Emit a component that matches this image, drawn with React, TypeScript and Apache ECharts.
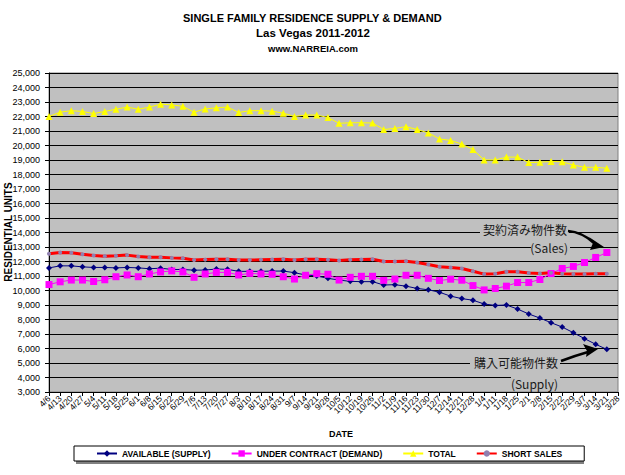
import React, { useEffect, useRef } from "react";
import * as echarts from "echarts";

const categories = [
  "4/6", "4/13", "4/20", "4/27", "5/4", "5/11", "5/18", "5/25", "6/1", "6/8", "6/15", "6/22", "6/29",
  "7/6", "7/13", "7/20", "7/27", "8/3", "8/10", "8/17", "8/24", "8/31", "9/7", "9/14", "9/21", "9/28",
  "10/5", "10/12", "10/19", "10/26", "11/2", "11/9", "11/16", "11/23", "11/30", "12/7", "12/14", "12/21", "12/28",
  "1/4", "1/11", "1/18", "1/25", "2/1", "2/8", "2/15", "2/22", "2/29", "3/7", "3/14", "3/21", "3/28",
];

const available = [
  11560, 11700, 11700, 11630, 11590, 11590, 11560, 11590, 11560, 11500, 11540, 11450, 11450,
  11400, 11410, 11480, 11460, 11320, 11320, 11320, 11340, 11340, 11230, 11070, 11000, 10840,
  10720, 10630, 10610, 10610, 10380, 10400, 10300, 10140, 10050, 9880, 9610, 9440, 9330,
  9070, 8970, 9000, 8720, 8380, 8100, 7780, 7480, 7090, 6680, 6290, 5940,
];

const underContract = [
  10410, 10600, 10720, 10720, 10620, 10740, 10950, 11070, 10950, 11140, 11280, 11350, 11280,
  10910, 11140, 11250, 11250, 11070, 11180, 11140, 11120, 10950, 10790, 11050, 11160, 11120,
  10720, 10910, 10980, 10980, 10700, 10790, 11050, 11050, 10840, 10690, 10780, 10710, 10340,
  10040, 10140, 10300, 10550, 10550, 10760, 11170, 11520, 11660, 11930, 12280, 12620,
];

const total = [
  22000, 22300, 22400, 22350, 22200, 22350, 22500, 22650, 22500, 22650, 22850, 22800, 22700,
  22300, 22520, 22600, 22650, 22280, 22400, 22400, 22370, 22230, 22000, 22100, 22100, 21930,
  21530, 21570, 21570, 21550, 21100, 21180, 21300, 21100, 20870, 20450, 20350, 20100, 19720,
  19000, 19000, 19200, 19200, 18820, 18850, 18900, 18880, 18650, 18500, 18500, 18430,
];

const shortSales = [
  12530, 12620, 12600, 12500, 12420, 12370, 12400, 12440, 12350, 12300, 12300, 12250, 12230,
  12100, 12130, 12160, 12160, 12100, 12100, 12120, 12140, 12160, 12100, 12160, 12160, 12120,
  12070, 12120, 12140, 12160, 12000, 12000, 12020, 11930, 11790, 11640, 11580, 11520, 11330,
  11130, 11150, 11290, 11290, 11200, 11170, 11220, 11150, 11130, 11130, 11150, 11150,
];

const FONT = "Liberation Sans, Arial, sans-serif";
const CJK = "'Noto Sans CJK JP', 'Noto Sans', sans-serif";

export default function App() {
  const ref = useRef<HTMLDivElement>(null);

  useEffect(() => {
    if (!ref.current) return;
    const chart = echarts.init(ref.current, undefined, { renderer: "svg" });
    chart.setOption({
      animation: false,
      backgroundColor: "#ffffff",
      textStyle: { fontFamily: FONT },
      grid: {
        left: 49,
        right: 7,
        top: 73,
        bottom: 83,
        show: true,
        backgroundColor: "#C0C0C0",
        borderColor: "#808080",
        borderWidth: 1,
      },
      legend: {
        left: 74,
        top: 446,
        padding: [3, 22, 3, 22],
        itemGap: 20,
        itemWidth: 20,
        itemHeight: 8,
        backgroundColor: "#ffffff",
        borderColor: "#000000",
        borderWidth: 1,
        borderRadius: 0,
        textStyle: { fontFamily: FONT, fontSize: 8.5, fontWeight: "bold", color: "#000" },
        data: ["AVAILABLE (SUPPLY)", "UNDER CONTRACT (DEMAND)", "TOTAL", "SHORT SALES"],
      },
      xAxis: {
        type: "category",
        data: categories,
        boundaryGap: false,
        axisLine: { lineStyle: { color: "#000", width: 1 } },
        axisTick: { show: true, length: 4, inside: false, interval: 0, lineStyle: { color: "#000" } },
        axisLabel: {
          interval: 0,
          rotate: 45,
          fontSize: 8.5,
          color: "#000",
          fontFamily: FONT,
          margin: 5,
        },
        splitLine: { show: false },
      },
      yAxis: {
        type: "value",
        min: 3000,
        max: 25000,
        interval: 1000,
        axisLine: { show: true, lineStyle: { color: "#000", width: 1 } },
        axisTick: { show: true, length: 4, lineStyle: { color: "#000" } },
        axisLabel: {
          fontSize: 9,
          color: "#000",
          fontFamily: FONT,
          margin: 9,
          formatter: (v: number) => v.toLocaleString("en-US"),
        },
        splitLine: { show: true, lineStyle: { color: "#000", width: 1 } },
      },
      series: [
        {
          name: "AVAILABLE (SUPPLY)",
          type: "line",
          data: available,
          symbol: "diamond",
          symbolSize: 6,
          showAllSymbol: true,
          lineStyle: { color: "#000080", width: 1 },
          itemStyle: { color: "#000080" },
        },
        {
          name: "UNDER CONTRACT (DEMAND)",
          type: "line",
          data: underContract,
          symbol: "rect",
          symbolSize: 7,
          showAllSymbol: true,
          lineStyle: { color: "#FF00FF", width: 1 },
          itemStyle: { color: "#FF00FF" },
        },
        {
          name: "TOTAL",
          type: "line",
          data: total,
          symbol: "triangle",
          symbolSize: 7,
          showAllSymbol: true,
          lineStyle: { color: "#FFFF00", width: 1 },
          itemStyle: { color: "#FFFF00" },
        },
        {
          name: "SHORT SALES",
          type: "line",
          data: shortSales,
          symbol: "circle",
          symbolSize: 4,
          showAllSymbol: true,
          lineStyle: { color: "#FF0000", width: 3 },
          itemStyle: { color: "#9080B0" },
        },
      ],
      graphic: [
        {
          type: "text",
          left: "center",
          top: 12,
          style: { text: "SINGLE FAMILY RESIDENCE SUPPLY & DEMAND", font: `bold 11px ${FONT}`, fill: "#000" },
        },
        {
          type: "text",
          x: 313,
          y: 33,
          style: { text: "Las Vegas 2011-2012", font: `bold 11.5px ${FONT}`, fill: "#000", textAlign: "center", textVerticalAlign: "middle" },
        },
        {
          type: "text",
          x: 313,
          y: 48,
          style: { text: "www.NARREIA.com", font: `bold 9.5px ${FONT}`, fill: "#000", textAlign: "center", textVerticalAlign: "middle" },
        },
        {
          type: "text",
          x: 8.5,
          y: 232,
          rotation: Math.PI / 2,
          style: { text: "RESIDENTIAL UNITS", font: `bold 10px ${FONT}`, fill: "#000", textAlign: "center", textVerticalAlign: "middle" },
        },
        {
          type: "text",
          x: 341,
          y: 434,
          style: { text: "DATE", font: `bold 9px ${FONT}`, fill: "#000", textAlign: "center", textVerticalAlign: "middle" },
        },
        {
          type: "rect",
          shape: { x: 76, y: 448, width: 508, height: 16 },
          style: { fill: "#808080" },
          z: 0,
        },
        // Sales annotation
        { type: "rect", z: 90, shape: { x: 480, y: 222, width: 89, height: 14 }, style: { fill: "#C0C0C0" } },
        { type: "rect", z: 90, shape: { x: 531, y: 240, width: 39, height: 14 }, style: { fill: "#C0C0C0" } },
        {
          type: "text", z: 100, x: 567, y: 229,
          style: { text: "契約済み物件数", font: `12px ${CJK}`, fill: "#1a1a1a", textAlign: "right", textVerticalAlign: "middle" },
        },
        {
          type: "text", z: 100, x: 568, y: 247,
          style: { text: "(Sales)", font: `12px ${CJK}`, fill: "#1a1a1a", textAlign: "right", textVerticalAlign: "middle" },
        },
        {
          type: "bezierCurve", z: 100,
          shape: { x1: 568, y1: 231, x2: 594, y2: 243, cpx1: 582, cpy1: 232 },
          style: { stroke: "#000", lineWidth: 2.5, fill: "none" },
        },
        {
          type: "polygon", z: 100,
          shape: { points: [[604, 247], [589, 237], [593, 243], [590, 250]] },
          style: { fill: "#000" },
        },
        // Supply annotation
        { type: "rect", z: 90, shape: { x: 470, y: 355, width: 90, height: 15 }, style: { fill: "#C0C0C0" } },
        { type: "rect", z: 90, shape: { x: 511, y: 375, width: 49, height: 15 }, style: { fill: "#C0C0C0" } },
        {
          type: "text", z: 100, x: 558, y: 362,
          style: { text: "購入可能物件数", font: `12px ${CJK}`, fill: "#1a1a1a", textAlign: "right", textVerticalAlign: "middle" },
        },
        {
          type: "text", z: 100, x: 558, y: 383,
          style: { text: "(Supply)", font: `12px ${CJK}`, fill: "#1a1a1a", textAlign: "right", textVerticalAlign: "middle" },
        },
        {
          type: "bezierCurve", z: 100,
          shape: { x1: 561, y1: 361, x2: 588, y2: 352, cpx1: 574, cpy1: 356 },
          style: { stroke: "#000", lineWidth: 2.5, fill: "none" },
        },
        {
          type: "polygon", z: 100,
          shape: { points: [[598, 349], [583, 344], [587, 351], [586, 357]] },
          style: { fill: "#000" },
        },
      ],
    });
    return () => chart.dispose();
  }, []);

  return (
    <div
      ref={ref}
      style={{ position: "fixed", left: 0, top: 0, width: 625, height: 475, background: "#fff" }}
    />
  );
}
